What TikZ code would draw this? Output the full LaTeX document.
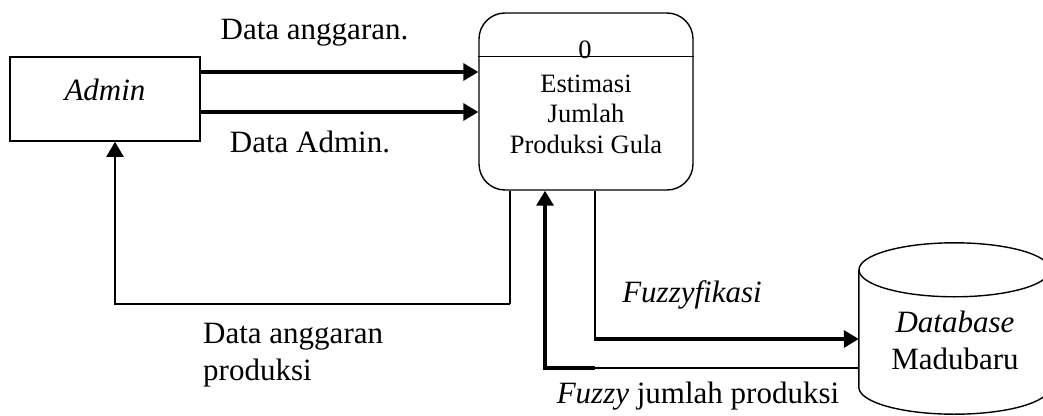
\documentclass[tikz,border=0pt]{standalone}
\usepackage{fontspec}
\setmainfont{Liberation Serif}
\usepackage{tikz}
\usetikzlibrary{arrows.meta, positioning, calc}
\tikzset{
    entity/.style={rectangle, draw, line width=1.6pt, minimum width=190pt, minimum height=84pt, inner sep=0pt},
    process/.style={rectangle, rounded corners=26pt, draw, line width=1.4pt, minimum width=214pt, minimum height=177pt, inner sep=0pt},
    store/.style={rectangle, minimum width=191pt, minimum height=171pt, inner sep=0pt},
    storeline/.style={line width=1.4pt},
    flowtext/.style={inner sep=0pt, font=\fontsize{31}{37}\selectfont},
    proctext/.style={inner sep=0pt, align=center, font=\fontsize{26.5}{30.7}\selectfont},
    arrow/.style={line width=3.3pt, -{Triangle[length=15pt, width=17pt]}},
    thinline/.style={line width=1.3pt}
}
\begin{document}
\begin{tikzpicture}[x=1pt, y=-1pt]
        \useasboundingbox (0,0) rectangle (1043,415);

        % Entity, process and data store
        \node[entity] (admin) at (105,99) {};
        \node[process] (proc) at (586,101.5) {};
        \node[store] (db) at (954.5,328.5) {};

        % Process header line
        \draw[thinline] ([yshift=-44pt]proc.north west) -- ([yshift=-44pt]proc.north east);

        % Database cylinder
        \draw[storeline] ([yshift=-27pt]db.north) ellipse [x radius=95.5pt, y radius=27pt];
        \draw[storeline] ([yshift=-27pt]db.north west) -- ([yshift=27pt]db.south west)
            arc [start angle=180, end angle=360, x radius=95.5pt, y radius=27pt] -- ([yshift=-27pt]db.north east);

        % Texts inside the shapes
        \node[proctext, anchor=base] (num) at (585,58.5) {0};
        \node[proctext, anchor=north] (procname) at (586,74.4) {Estimasi\\Jumlah\\Produksi Gula};
        \node[flowtext, anchor=base] (adminname) at (105,100) {\textit{Admin}};
        \node[flowtext, anchor=north, align=center] (dbname) at (955,310.8) {\textit{Database}\\Madubaru};

        % Flow labels
        \node[flowtext, anchor=base] (lblbudget) at (314.5,39.5) {Data anggaran.};
        \node[flowtext, anchor=base] (lbladmin) at (310,152) {Data Admin.};
        \node[flowtext, anchor=north west, align=left] (lblprod) at (203,322.5) {Data anggaran\\produksi};
        \node[flowtext, anchor=base] (lblfuzzy) at (692,302) {\textit{Fuzzyfikasi}};
        \node[flowtext, anchor=base] (lblresult) at (698,403) {\textit{Fuzzy} jumlah produksi};

        % Admin to process
        \draw[arrow] ([yshift=27pt]admin.east) -- ([yshift=27pt]admin.east -| proc.west);
        \draw[arrow] ([yshift=-13pt]admin.east) -- ([yshift=-13pt]admin.east -| proc.west);

        % Process back to admin
        \coordinate (bend1) at (510,304);
        \coordinate (bend2) at (115,304);
        \draw[thinline] (bend1 |- proc.south) -- (bend1);
        \draw[arrow, line width=2pt] (bend1) -- (bend2) -- (bend2 |- admin.south);

        % Process to database
        \coordinate (bend3) at (595,339);
        \draw[thinline] (bend3 |- proc.south) -- (bend3);
        \draw[arrow] ([xshift=-0.65pt]bend3) -- (bend3 -| db.west);

        % Database back to process
        \coordinate (bend4) at (595,368);
        \coordinate (bend5) at (545,368);
        \draw[thinline] (bend4 -| db.west) -- (bend4);
        \draw[arrow] (bend4) -- (bend5) -- (bend5 |- proc.south);
    \end{tikzpicture}
\end{document}
